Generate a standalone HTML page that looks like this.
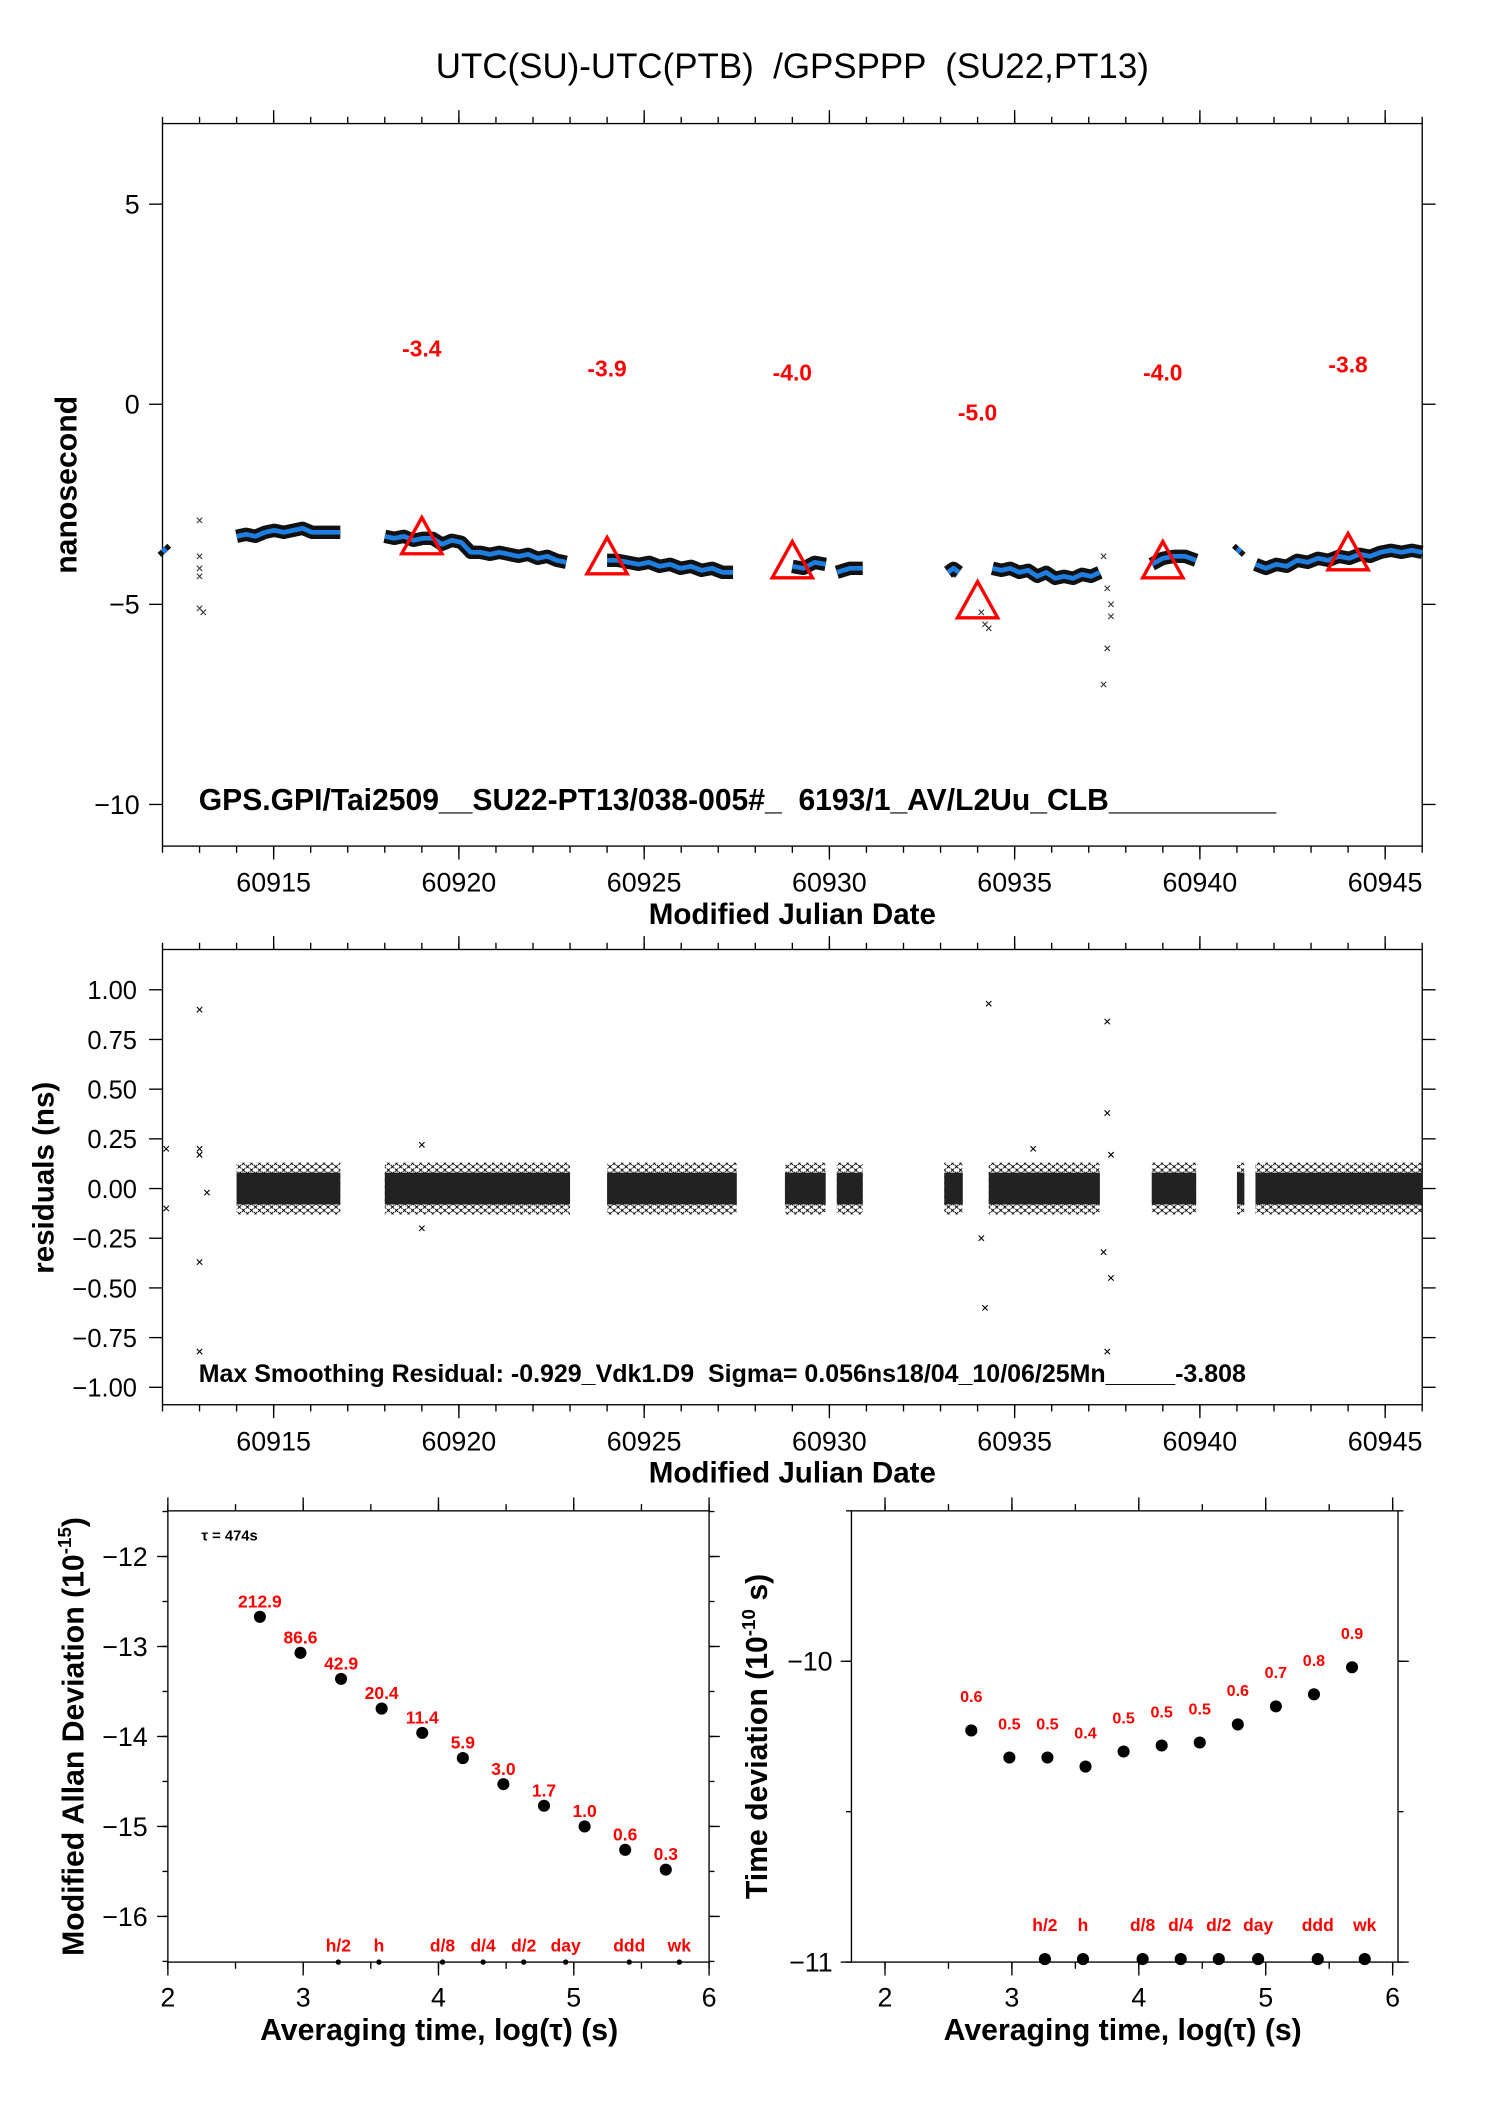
<!DOCTYPE html>
<html><head><meta charset="utf-8"><style>
html,body{margin:0;padding:0;background:#fff;}
svg{display:block;font-family:"Liberation Sans",sans-serif;}
svg text{white-space:pre;}
</style></head><body>
<svg id="root" width="1488" height="2105" viewBox="0 0 1108 1567.4" xmlns="http://www.w3.org/2000/svg">
<defs>
<pattern id="xpat" width="6" height="5" patternUnits="userSpaceOnUse">
<path d="M0,0l2.5,2.5M2.5,0l-2.5,2.5M3,2.5l2.5,2.5M5.5,2.5l-2.5,2.5" stroke="#000" stroke-width="0.7"/>
</pattern>
</defs>
<text x="590" y="58" font-size="26" text-anchor="middle">UTC(SU)-UTC(PTB)  /GPSPPP  (SU22,PT13)</text>
<g id="g1"></g><g id="g2"></g><g id="g3"></g><g id="g4"></g>
</svg>
<script>
// ---- data ----
const topSegX = [[60912.0,60912.1],[60914.0,60916.8],[60918.0,60922.9],[60924.0,60927.4],[60929.0,60929.9],[60930.2,60930.9],[60933.2,60933.5],[60934.4,60937.3],[60938.7,60939.9],[60941.0,60941.1],[60941.5,60946.0]];
const topSegY = [[-3.6,-3.7],[-3.3,-3.25,-3.3,-3.2,-3.15,-3.2,-3.15,-3.1,-3.2,-3.2,-3.2,-3.2],[-3.3,-3.35,-3.3,-3.4,-3.35,-3.35,-3.5,-3.4,-3.45,-3.7,-3.7,-3.75,-3.7,-3.75,-3.8,-3.75,-3.85,-3.8,-3.9,-3.95],[-3.9,-3.9,-3.95,-4.0,-3.95,-4.05,-4.0,-4.1,-4.05,-4.15,-4.1,-4.2,-4.2],[-4.05,-4.1,-3.95,-4.0],[-4.2,-4.1,-4.1],[-4.2,-4.1,-4.2],[-4.1,-4.15,-4.1,-4.2,-4.15,-4.3,-4.2,-4.35,-4.3,-4.35,-4.25,-4.3,-4.2],[-4.0,-3.85,-3.8,-3.8,-3.9],[-3.7,-3.6],[-4.0,-4.1,-4.0,-4.05,-3.9,-3.95,-3.85,-3.9,-3.8,-3.85,-3.75,-3.8,-3.7,-3.65,-3.7,-3.65,-3.7]];
const topOutX = [60913,60913,60913,60913,60913,60913.1,60934.1,60934.2,60934.3,60937.4,60937.4,60937.5,60937.5,60937.6,60937.6];
const topOutY = [-2.9,-3.8,-4.1,-4.3,-5.1,-5.2,-5.2,-5.5,-5.6,-3.8,-7.0,-6.1,-4.6,-5.0,-5.3];
const triX = [60919,60924,60929,60934,60939,60944];
const triY = [-3.4,-3.9,-4.0,-5.0,-4.0,-3.8];
const triLabels = ["-3.4","-3.9","-4.0","-5.0","-4.0","-3.8"];
const resSegStart = [60914,60918,60924,60928.8,60930.2,60933.1,60934.3,60938.7,60941,60941.5];
const resSegEnd = [60916.8,60923,60927.5,60929.9,60930.9,60933.6,60937.3,60939.9,60941.2,60946];
const resOutX = [60913,60913,60913,60913,60913,60913.2,60934.3,60934.2,60934.1,60937.5,60937.5,60937.6,60937.4,60937.6,60937.5,60919,60919,60935.5,60912.1,60912.1];
const resOutY = [0.9,0.2,0.17,-0.37,-0.82,-0.02,0.93,-0.6,-0.25,0.84,0.38,0.17,-0.32,-0.45,-0.82,0.22,-0.2,0.2,0.2,-0.1];
const madX = [2.68,2.98,3.28,3.58,3.88,4.18,4.48,4.78,5.08,5.38,5.68];
const madY = [-12.67,-13.07,-13.36,-13.69,-13.96,-14.24,-14.53,-14.77,-15.0,-15.26,-15.48];
const madLabels = ["212.9","86.6","42.9","20.4","11.4","5.9","3.0","1.7","1.0","0.6","0.3"];
const tdevY = [-10.23,-10.32,-10.32,-10.35,-10.30,-10.28,-10.27,-10.21,-10.15,-10.11,-10.02];
const tdevLabels = ["0.6","0.5","0.5","0.4","0.5","0.5","0.5","0.6","0.7","0.8","0.9"];
const markX = [3.26,3.56,4.03,4.33,4.63,4.94,5.41,5.78];
const markLabels = ["h/2","h","d/8","d/4","d/2","day","ddd","wk"];
const mjdTicks = [60915,60920,60925,60930,60935,60940,60945];

const NS="http://www.w3.org/2000/svg";
function mk(parent,tag,attrs,text){const e=document.createElementNS(NS,tag);for(const k in attrs)e.setAttribute(k,attrs[k]);if(text!==undefined)e.textContent=text;parent.appendChild(e);return e;}
function lin(d0,d1,p0,p1){return v=>p0+(v-d0)*(p1-p0)/(d1-d0);}

function frame(g,x0,x1,y0,y1,name){
  const r=mk(g,'rect',{x:x0,y:y0,width:x1-x0,height:y1-y0,fill:'none',stroke:'#000','stroke-width':1});
  
  
}
function xTicks(g,sx,lo,hi,step,y0,y1,len){
  for(let v=lo;v<=hi+1e-9;v+=step){const x=sx(v);
    mk(g,'line',{x1:x,x2:x,y1:y0,y2:y0-len,stroke:'#000'});
    mk(g,'line',{x1:x,x2:x,y1:y1,y2:y1+len,stroke:'#000'});}
}
function yTicks(g,sy,lo,hi,step,x0,x1,len){
  for(let v=lo;v<=hi+1e-9;v+=step){const y=sy(v);
    mk(g,'line',{x1:x0,x2:x0-len,y1:y,y2:y,stroke:'#000'});
    mk(g,'line',{x1:x1,x2:x1+len,y1:y,y2:y,stroke:'#000'});}
}
function xmark(g,x,y,s,c){mk(g,'path',{d:`M${x-s},${y-s}L${x+s},${y+s}M${x+s},${y-s}L${x-s},${y+s}`,stroke:c,'stroke-width':0.8});}

// ---- panel 1 ----
(function(){
const g=document.getElementById('g1');


const X0=121,X1=1059,Y0=92,Y1=630;
const sx=lin(60912,60946,X0,X1), sy=lin(0,5,301,152);
frame(g,X0,X1,Y0,Y1,'time-series');
xTicks(g,sx,60912,60946,1,Y0,Y1,5);xTicks(g,sx,60915,60945,5,Y0,Y1,10);
yTicks(g,sy,-10,5,5,X0,X1,10);
[5,0,-5,-10].forEach(v=>{const t=mk(g,'text',{x:104,y:sy(v)+7,'font-size':20,'text-anchor':'end'},v<0?'\u2212'+(-v):String(v));
 });
mjdTicks.forEach(v=>{const t=mk(g,'text',{x:sx(v),y:664,'font-size':20,'text-anchor':'middle'},String(v));
 });
const yt=mk(g,'text',{x:0,y:0,'font-size':22.5,'font-weight':'bold','text-anchor':'middle',transform:'translate(57,361) rotate(-90)'},'nanosecond');

const xt=mk(g,'text',{x:590,y:688,'font-size':22,'font-weight':'bold','text-anchor':'middle'},'Modified Julian Date');

topSegX.forEach((s,i)=>{const ys=topSegY[i];const n=ys.length;
  const pts=ys.map((v,j)=>`${sx(s[0]+(s[1]-s[0])*j/(n-1))},${sy(v)}`).join(' ');
  const b=mk(g,'polyline',{points:pts,fill:'none',stroke:'#111','stroke-width':10,'stroke-linejoin':'round'});
  
  const l=mk(g,'polyline',{points:pts,fill:'none',stroke:'#1e7fe0','stroke-width':3.5,'stroke-linejoin':'round'});
  
});
topOutX.forEach((v,i)=>xmark(g,sx(v),sy(topOutY[i]),2,'#333'));
triX.forEach((v,i)=>{const x=sx(v),y=sy(triY[i]);
  const p=mk(g,'path',{d:`M${x},${y-17}L${x+15},${y+10}L${x-15},${y+10}Z`,fill:'none',stroke:'#f00','stroke-width':2.5});
  
  const t=mk(g,'text',{x:x,y:sy(triY[i]+4.8)+6,'font-size':17,'font-weight':'bold',fill:'#f00','text-anchor':'middle'},triLabels[i]);
  
});
const a=mk(g,'text',{x:148,y:603,'font-size':22.4,'font-weight':'bold'},'GPS.GPI/Tai2509__SU22-PT13/038-005#_  6193/1_AV/L2Uu_CLB__________');

})();

// ---- panel 2 ----
(function(){
const g=document.getElementById('g2');


const X0=121,X1=1059,Y0=707,Y1=1046;
const sx=lin(60912,60946,X0,X1), sy=lin(0,1,885,737);
frame(g,X0,X1,Y0,Y1,'residuals');
xTicks(g,sx,60912,60946,1,Y0,Y1,5);xTicks(g,sx,60915,60945,5,Y0,Y1,10);
yTicks(g,sy,-1,1,0.25,X0,X1,10);
[1,0.75,0.5,0.25,0,-0.25,-0.5,-0.75,-1].forEach(v=>{const s=(v<0?'\u2212':'')+Math.abs(v).toFixed(2);
 const t=mk(g,'text',{x:102,y:sy(v)+7,'font-size':19,'text-anchor':'end'},s);
 });
mjdTicks.forEach(v=>{const t=mk(g,'text',{x:sx(v),y:1080,'font-size':20,'text-anchor':'middle'},String(v));
 });
const yt=mk(g,'text',{x:0,y:0,'font-size':22,'font-weight':'bold','text-anchor':'middle',transform:'translate(40,877) rotate(-90)'},'residuals (ns)');

const xt=mk(g,'text',{x:590,y:1104,'font-size':22,'font-weight':'bold','text-anchor':'middle'},'Modified Julian Date');

resSegStart.forEach((s,i)=>{const e=resSegEnd[i];
  const o=mk(g,'rect',{x:sx(s),y:sy(0.13),width:sx(e)-sx(s),height:sy(-0.13)-sy(0.13),fill:'url(#xpat)'});
  
  mk(g,'rect',{x:sx(s),y:sy(0.08),width:sx(e)-sx(s),height:sy(-0.08)-sy(0.08),fill:'#222'});
});
resOutX.forEach((v,i)=>xmark(g,sx(v),sy(resOutY[i]),2,'#000'));
const a=mk(g,'text',{x:148,y:1029,'font-size':18.6,'font-weight':'bold'},'Max Smoothing Residual: -0.929_Vdk1.D9  Sigma= 0.056ns18/04_10/06/25Mn_____-3.808');

})();

// ---- panel 3: MDEV ----
(function(){
const g=document.getElementById('g3');


const X0=125,X1=528,Y0=1125,Y1=1461;
const sx=lin(2,6,X0,X1), sy=lin(-12,-13,1159,1226);
frame(g,X0,X1,Y0,Y1,'mdev');
xTicks(g,sx,2,6,0.5,Y0,Y1,5);xTicks(g,sx,2,6,1,Y0,Y1,10);
yTicks(g,sy,-16.5,-11.5,0.5,X0,X1,4);yTicks(g,sy,-16,-12,1,X0,X1,8);
[2,3,4,5,6].forEach(v=>{const t=mk(g,'text',{x:sx(v),y:1494,'font-size':20,'text-anchor':'middle'},String(v));
 });
[-12,-13,-14,-15,-16].forEach(v=>{const t=mk(g,'text',{x:110,y:sy(v)+7,'font-size':20,'text-anchor':'end'},'\u2212'+(-v));
 });
const yt=mk(g,'text',{x:0,y:0,'font-size':22.5,'font-weight':'bold','text-anchor':'middle',transform:'translate(62,1293) rotate(-90)'});
yt.innerHTML='Modified Allan Deviation (10<tspan dy="-9" font-size="14">-15</tspan><tspan dy="9">)</tspan>';

const xt=mk(g,'text',{x:327,y:1519,'font-size':22.5,'font-weight':'bold','text-anchor':'middle'},'Averaging time, log(\u03c4) (s)');

const tl=mk(g,'text',{x:150,y:1147,'font-size':11,'font-weight':'bold'},'\u03c4 = 474s');

madX.forEach((v,i)=>{const c=mk(g,'circle',{cx:sx(v),cy:sy(madY[i]),r:4.5,fill:'#000'});
  
  const t=mk(g,'text',{x:sx(v),y:sy(madY[i])-7,'font-size':13,'font-weight':'bold',fill:'#f00','text-anchor':'middle'},madLabels[i]);
  });
markX.forEach((v,i)=>{mk(g,'circle',{cx:sx(v),cy:Y1,r:2,fill:'#000'});
  const t=mk(g,'text',{x:sx(v),y:1453,'font-size':13,'font-weight':'bold',fill:'#f00','text-anchor':'middle'},markLabels[i]);
  });
})();

// ---- panel 4: TDEV ----
(function(){
const g=document.getElementById('g4');


const X0=634,X1=1041,Y0=1125,Y1=1461;
const sx=lin(2,6,659,1037), sy=lin(-10,-11,1237,1461);
frame(g,X0,X1,Y0,Y1,'tdev');
xTicks(g,sx,2,6,0.5,Y0,Y1,5);xTicks(g,sx,2,6,1,Y0,Y1,10);
yTicks(g,sy,-11,-9.5,0.5,X0,X1,4);yTicks(g,sy,-11,-10,1,X0,X1,8);
[2,3,4,5,6].forEach(v=>{const t=mk(g,'text',{x:sx(v),y:1494,'font-size':20,'text-anchor':'middle'},String(v));
 });
[-10,-11].forEach(v=>{const t=mk(g,'text',{x:620,y:sy(v)+7,'font-size':20,'text-anchor':'end'},'\u2212'+(-v));
 });
const yt=mk(g,'text',{x:0,y:0,'font-size':22.5,'font-weight':'bold','text-anchor':'middle',transform:'translate(571,1293) rotate(-90)'});
yt.innerHTML='Time deviation (10<tspan dy="-9" font-size="14">-10</tspan><tspan dy="9"> s)</tspan>';

const xt=mk(g,'text',{x:836,y:1519,'font-size':22.5,'font-weight':'bold','text-anchor':'middle'},'Averaging time, log(\u03c4) (s)');

madX.forEach((v,i)=>{const c=mk(g,'circle',{cx:sx(v),cy:sy(tdevY[i]),r:4.5,fill:'#000'});
  
  const t=mk(g,'text',{x:sx(v),y:sy(tdevY[i])-21,'font-size':12,'font-weight':'bold',fill:'#f00','text-anchor':'middle'},tdevLabels[i]);
  });
markX.forEach((v,i)=>{mk(g,'circle',{cx:sx(v),cy:sy(-10.99),r:4.5,fill:'#000'});
  const t=mk(g,'text',{x:sx(v),y:1438,'font-size':13,'font-weight':'bold',fill:'#f00','text-anchor':'middle'},markLabels[i]);
  });
})();
</script>
</body></html>
